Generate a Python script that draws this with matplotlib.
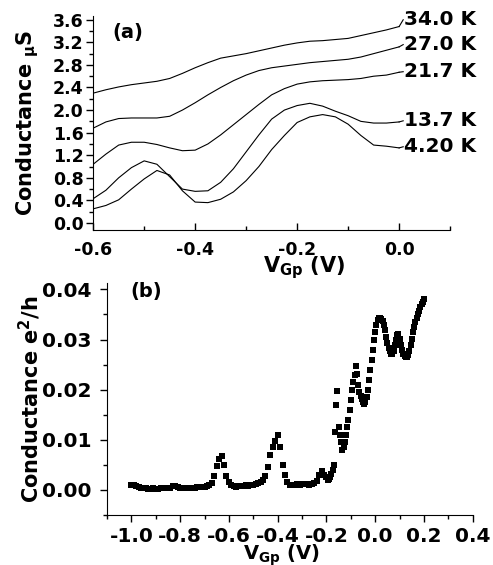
import numpy as np
import matplotlib
matplotlib.use('Agg')
import matplotlib.pyplot as plt
from matplotlib.ticker import MultipleLocator

plt.rcParams['font.family'] = ['DejaVu Sans']
plt.rcParams['font.weight'] = 'bold'
plt.rcParams['mathtext.default'] = 'bf'

# panel (a): conductance vs gate voltage at several temperatures
v_a = np.linspace(-0.6, 0.0, 25)
temps = ['34.0 K', '27.0 K', '21.7 K', '13.7 K', '4.20 K']
g_34 = [2.30, 2.36, 2.41, 2.45, 2.48, 2.51, 2.56, 2.65, 2.75, 2.84, 2.92, 2.96, 3.00,
        3.05, 3.10, 3.15, 3.19, 3.22, 3.23, 3.25, 3.27, 3.32, 3.37, 3.42, 3.48]
g_27 = [1.68, 1.79, 1.85, 1.86, 1.86, 1.86, 1.89, 2.00, 2.13, 2.27, 2.40, 2.52, 2.62,
        2.70, 2.75, 2.78, 2.81, 2.84, 2.86, 2.88, 2.90, 2.94, 3.00, 3.06, 3.12]
g_21 = [1.04, 1.22, 1.38, 1.43, 1.43, 1.39, 1.33, 1.28, 1.29, 1.40, 1.56, 1.74, 1.92,
        2.10, 2.27, 2.38, 2.46, 2.50, 2.52, 2.53, 2.54, 2.56, 2.60, 2.62, 2.67]
g_13 = [0.43, 0.58, 0.80, 0.98, 1.10, 1.04, 0.82, 0.60, 0.56, 0.57, 0.72, 0.96, 1.26,
        1.56, 1.84, 2.00, 2.08, 2.12, 2.07, 1.98, 1.90, 1.80, 1.77, 1.77, 1.79]
g_4 = [0.25, 0.31, 0.41, 0.60, 0.78, 0.93, 0.85, 0.57, 0.37, 0.36, 0.42, 0.55, 0.75,
       1.00, 1.30, 1.55, 1.78, 1.88, 1.92, 1.88, 1.75, 1.55, 1.38, 1.36, 1.33]
label_y = [3.60, 3.16, 2.68, 1.81, 1.35]

# panel (b): conductance in e^2/h, low-voltage part (0.01 V steps)
v_low = np.linspace(-1.0, -0.2, 81)
g_low = [0.0009, 0.0009, 0.0008, 0.0006, 0.0004, 0.0003, 0.0003, 0.0002, 0.0002, 0.0003,
         0.0002, 0.0002, 0.0003, 0.0003, 0.0003, 0.0003, 0.0004, 0.0007, 0.0008, 0.0005,
         0.0004, 0.0003, 0.0004, 0.0004, 0.0003, 0.0004, 0.0004, 0.0005, 0.0005, 0.0006,
         0.0006, 0.0007, 0.0009, 0.0013, 0.0028, 0.0048, 0.0062, 0.0068, 0.0050, 0.0028,
         0.0015, 0.0009, 0.0007, 0.0006, 0.0007, 0.0008, 0.0008, 0.0009, 0.0008, 0.0009,
         0.0010, 0.0011, 0.0013, 0.0016, 0.0020, 0.0028, 0.0045, 0.0070, 0.0085, 0.0098,
         0.0110, 0.0085, 0.0050, 0.0030, 0.0016, 0.0010, 0.0009, 0.0010, 0.0011, 0.0010,
         0.0011, 0.0012, 0.0011, 0.0010, 0.0012, 0.0014, 0.0018, 0.0030, 0.0038, 0.0030,
         0.0025]
# high-voltage part (0.005 V steps)
v_high = np.linspace(-0.195, 0.2, 80)
g_high = [0.0020, 0.0022, 0.0026, 0.0032, 0.0040, 0.0050, 0.0115, 0.0170, 0.0197, 0.0125,
          0.0110, 0.0095, 0.0080, 0.0085, 0.0095, 0.0110, 0.0125, 0.0140, 0.0160, 0.0180,
          0.0200, 0.0215, 0.0230, 0.0248, 0.0232, 0.0210, 0.0195, 0.0188, 0.0182, 0.0176,
          0.0172, 0.0175, 0.0185, 0.0200, 0.0220, 0.0240, 0.0260, 0.0280, 0.0300, 0.0315,
          0.0328, 0.0338, 0.0342, 0.0342, 0.0340, 0.0336, 0.0328, 0.0318, 0.0305, 0.0293,
          0.0283, 0.0277, 0.0272, 0.0272, 0.0278, 0.0290, 0.0300, 0.0308, 0.0310, 0.0302,
          0.0290, 0.0280, 0.0272, 0.0267, 0.0265, 0.0266, 0.0270, 0.0278, 0.0290, 0.0302,
          0.0314, 0.0325, 0.0335, 0.0343, 0.0350, 0.0357, 0.0364, 0.0370, 0.0375, 0.0380]

fig = plt.figure(figsize=(4.93, 5.65), dpi=100)

# ---- panel (a)
ax1 = fig.add_axes([0.189, 0.593, 0.724, 0.379])
for g in [g_34, g_27, g_21, g_13, g_4]:
    ax1.plot(v_a, g, color='black', lw=0.8)
for t, yl, g in zip(temps, label_y, [g_34, g_27, g_21, g_13, g_4]):
    ax1.plot([0.0, 0.008], [g[-1], yl], color='black', lw=0.8, clip_on=False)
    ax1.text(0.010, yl, t, fontsize=14.5, fontweight='bold', ha='left', va='center',
             clip_on=False)
ax1.set_xlim(-0.6, 0.1)
ax1.set_ylim(-0.124, 3.67)
ax1.xaxis.set_major_locator(MultipleLocator(0.2))
ax1.xaxis.set_minor_locator(MultipleLocator(0.1))
ax1.yaxis.set_major_locator(MultipleLocator(0.4))
ax1.yaxis.set_minor_locator(MultipleLocator(0.2))
ax1.set_xticks([-0.6, -0.4, -0.2, 0.0])
ax1.set_xticklabels(['-0.6', '-0.4', '-0.2', '0.0'])
ax1.tick_params(axis='x', which='both', direction='in', pad=8)
ax1.tick_params(axis='y', which='both', direction='out', pad=2)
ax1.tick_params(which='major', length=5, width=1, labelsize=12.5)
ax1.tick_params(which='minor', length=3, width=1)
for lab in ax1.get_xticklabels() + ax1.get_yticklabels():
    lab.set_fontweight('bold')
ax1.spines['top'].set_visible(False)
ax1.spines['right'].set_visible(False)
ax1.set_ylabel(r'Conductance $_{\mu}$S', fontsize=15, fontweight='bold')
ax1.yaxis.set_label_coords(-0.145, 0.5)
ax1.set_xlabel(r'V$_{Gp}$ (V)', fontsize=15, fontweight='bold')
ax1.xaxis.set_label_coords(0.59, -0.115)
ax1.text(0.055, 0.965, '(a)', transform=ax1.transAxes, fontsize=14, fontweight='bold',
         ha='left', va='top')

# ---- panel (b)
ax2 = fig.add_axes([0.217, 0.0885, 0.742, 0.41])
ax2.plot(v_low, g_low, 's', color='black', markersize=5, markeredgewidth=0)
ax2.plot(v_high, g_high, 's', color='black', markersize=5, markeredgewidth=0)
ax2.set_xlim(-1.1, 0.4)
ax2.set_ylim(-0.005, 0.0412)
ax2.xaxis.set_major_locator(MultipleLocator(0.2))
ax2.xaxis.set_minor_locator(MultipleLocator(0.1))
ax2.yaxis.set_major_locator(MultipleLocator(0.01))
ax2.yaxis.set_minor_locator(MultipleLocator(0.005))
ax2.set_xticks([-1.0, -0.8, -0.6, -0.4, -0.2, 0.0, 0.2, 0.4])
ax2.set_xticklabels(['-1.0', '-0.8', '-0.6', '-0.4', '-0.2', '0.0', '0.2', '0.4'])
ax2.set_yticks([0.0, 0.01, 0.02, 0.03, 0.04])
ax2.set_yticklabels(['0.00', '0.01', '0.02', '0.03', '0.04'])
ax2.tick_params(which='both', direction='out')
ax2.tick_params(axis='y', which='major', pad=6)
ax2.tick_params(axis='x', which='major', pad=4)
ax2.tick_params(which='major', length=5, width=1, labelsize=14.5)
ax2.tick_params(which='minor', length=3, width=1)
for lab in ax2.get_xticklabels() + ax2.get_yticklabels():
    lab.set_fontweight('bold')
ax2.spines['top'].set_visible(False)
ax2.spines['right'].set_visible(False)
ax2.set_ylabel(r'Conductance e$^{2}$/h', fontsize=15, fontweight='bold')
ax2.yaxis.set_label_coords(-0.175, 0.5)
ax2.set_xlabel(r'V$_{Gp}$ (V)', fontsize=14, fontweight='bold')
ax2.xaxis.set_label_coords(0.478, -0.12)
ax2.text(0.065, 1.005, '(b)', transform=ax2.transAxes, fontsize=14, fontweight='bold',
         ha='left', va='top')

fig.savefig('out.png', dpi=100)
